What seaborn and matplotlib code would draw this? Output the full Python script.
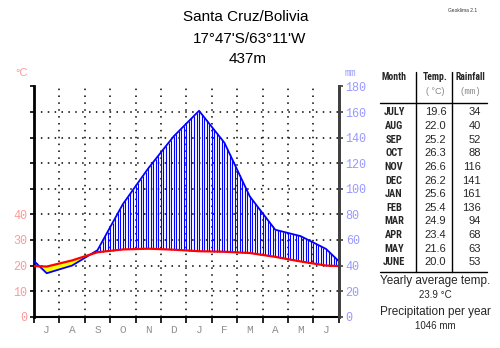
import numpy as np
import matplotlib
matplotlib.use("Agg")
import matplotlib.pyplot as plt
import seaborn as sns

months = ["J", "A", "S", "O", "N", "D", "J", "F", "M", "A", "M", "J"]
table_months = ["JULY", "AUG", "SEP", "OCT", "NOV", "DEC", "JAN", "FEB", "MAR", "APR", "MAY", "JUNE"]
temp = [19.6, 22.0, 25.2, 26.3, 26.6, 26.2, 25.6, 25.4, 24.9, 23.4, 21.6, 20.0]
rain = [34, 40, 52, 88, 116, 141, 161, 136, 94, 68, 63, 53]
temp_ticks = [0, 10, 20, 30, 40]
rain_ticks = [0, 20, 40, 60, 80, 100, 120, 140, 160, 180]
title_lines = ["Santa Cruz/Bolivia", "17°47'S/63°11'W", "437m"]
yearly_temp = "23.9 °C"
yearly_rain = "1046 mm"

sns.set_theme(style="white")
plt.rcParams["font.family"] = ["Liberation Sans", "DejaVu Sans"]

W, H = 500, 348
fig = plt.figure(figsize=(W / 100, H / 100), dpi=100)

def fx(px):
    return px / W

def fy(py):
    return 1 - py / H

ax = fig.add_axes([fx(34), fy(316.7), fx(338.7) - fx(34), fy(86.5) - fy(316.7)])
ax.set_facecolor("white")

ratio = 0.5  # 20 mm = 10 °C
n = len(temp)
centers = np.arange(n) + 0.5
edge_t = (temp[0] + temp[-1]) / 2
edge_r = (rain[0] + rain[-1]) / 2
xs = np.concatenate([[0], centers, [n]])
t_ext = np.concatenate([[edge_t], temp, [edge_t]])
r_ext = np.concatenate([[edge_r], rain, [edge_r]]) * ratio

xf = np.linspace(0, n, 1201)
tf = np.interp(xf, xs, t_ext)
rf = np.interp(xf, xs, r_ext)
ax.fill_between(xf, tf, rf, where=rf < tf, color="#ffff00", interpolate=True, lw=0, zorder=2)
xh = np.arange(0, n + 1e-9, 0.1)
th = np.interp(xh, xs, t_ext)
rh = np.interp(xh, xs, r_ext)
m = rh > th
ax.vlines(xh[m], th[m], rh[m], color="#0000ff", lw=0.8, zorder=2)

sns.lineplot(x=xs, y=r_ext, ax=ax, color="#0000ff", lw=1.3, zorder=4)
sns.lineplot(x=xs, y=t_ext, ax=ax, color="#ff0000", lw=1.6, zorder=5)

ax.set_xlim(0, n)
ax.set_ylim(0, 90)

for gy in np.arange(10, 91, 10):
    ax.axhline(gy, color="black", lw=1.1, ls=(0, (1, 3.5)), zorder=1)
for gx in range(1, n):
    ax.axvline(gx, color="black", lw=1.1, ls=(0, (1, 3.5)), zorder=1)

mono = ["Liberation Mono", "DejaVu Sans Mono"]
ax.set_yticks(np.arange(0, 91, 10))
ax.set_yticklabels([str(v) if v in temp_ticks else "" for v in range(0, 91, 10)],
                   color="#ff9999", family=mono, fontsize=8.5)
ax.set_xticks(np.arange(0, n + 1))
ax.set_xticklabels([])
ax.set_xticks(centers, minor=True)
ax.set_xticklabels(months, minor=True, color="#909090", family=mono, fontsize=8)
ax.tick_params(axis="x", which="major", direction="out", length=4, width=1.2, color="black", bottom=True)
ax.tick_params(axis="x", which="minor", length=0, pad=6)
ax.tick_params(axis="y", direction="out", length=3, width=1.2, color="black", left=True, pad=2)

ax.spines["top"].set_visible(False)
ax.spines["left"].set_color("black")
ax.spines["left"].set_linewidth(2)
ax.spines["bottom"].set_color("black")
ax.spines["bottom"].set_linewidth(1.5)
ax.spines["right"].set_color("#404040")
ax.spines["right"].set_linewidth(2)

ax2 = ax.twinx()
ax2.set_ylim(0, 90 / ratio)
ax2.set_yticks(rain_ticks)
ax2.set_yticklabels([str(v) for v in rain_ticks], color="#9999ff", family=mono, fontsize=8.5)
ax2.tick_params(axis="y", direction="out", length=3, width=1.2, color="#404040", right=True, pad=2)
for s in ["top", "left", "bottom"]:
    ax2.spines[s].set_visible(False)
ax2.spines["right"].set_color("#404040")
ax2.spines["right"].set_linewidth(2)
ax2.grid(False)

fig.text(fx(22), fy(73), "°C", color="#ff9999", fontsize=8, ha="center", va="center")
fig.text(fx(350), fy(73), "mm", color="#9999ff", fontsize=7, ha="center", va="center", family=mono)

for txt, (px, py) in zip(title_lines, [(245.5, 17), (250, 39), (248, 59)]):
    fig.text(fx(px), fy(py), txt, fontsize=11, ha="center", va="center", color="black")
fig.text(fx(463), fy(11), "Geoklima 2.1", fontsize=3.5, ha="center", va="center", color="#333333")

narrow = ["Liberation Sans Narrow", "Roboto Condensed", "DejaVu Sans Condensed", "Open Sans Condensed", "Liberation Sans"]
fig.text(fx(394), fy(77), "Month", fontsize=7, ha="center", va="center", family=narrow, weight="bold")
fig.text(fx(435), fy(77), "Temp.", fontsize=7, ha="center", va="center", family=narrow, weight="bold")
fig.text(fx(435), fy(92), "( °C)", fontsize=6.5, ha="center", va="center", color="#888888")
fig.text(fx(470), fy(77), "Rainfall", fontsize=7, ha="center", va="center", family=narrow, weight="bold")
fig.text(fx(470), fy(92), "(mm)", fontsize=6.5, ha="center", va="center", color="#888888", family=mono)
fig.add_artist(plt.Line2D([fx(380), fx(487)], [fy(103), fy(103)], color="black", lw=1))
fig.add_artist(plt.Line2D([fx(380), fx(487)], [fy(272), fy(272)], color="black", lw=1))
fig.add_artist(plt.Line2D([fx(416), fx(416)], [fy(72), fy(272)], color="black", lw=1))
fig.add_artist(plt.Line2D([fx(452), fx(452)], [fy(72), fy(272)], color="black", lw=1))
for i, (mn, t, r) in enumerate(zip(table_months, temp, rain)):
    y = 112.3 + i * 13.64
    fig.text(fx(394), fy(y), mn, fontsize=7.5, ha="center", va="center", family=narrow, weight="bold")
    fig.text(fx(435.5), fy(y), f"{t:.1f}", fontsize=8, ha="center", va="center")
    fig.text(fx(481), fy(y), f"{r}", fontsize=8, ha="right", va="center")

fig.text(fx(435), fy(281), "Yearly average temp.", fontsize=8.5, ha="center", va="center")
fig.text(fx(435), fy(295), yearly_temp, fontsize=7, ha="center", va="center")
fig.text(fx(435), fy(312), "Precipitation per year", fontsize=8.5, ha="center", va="center")
fig.text(fx(435), fy(326), yearly_rain, fontsize=7, ha="center", va="center")

fig.savefig("out.png", dpi=100, facecolor="white")
